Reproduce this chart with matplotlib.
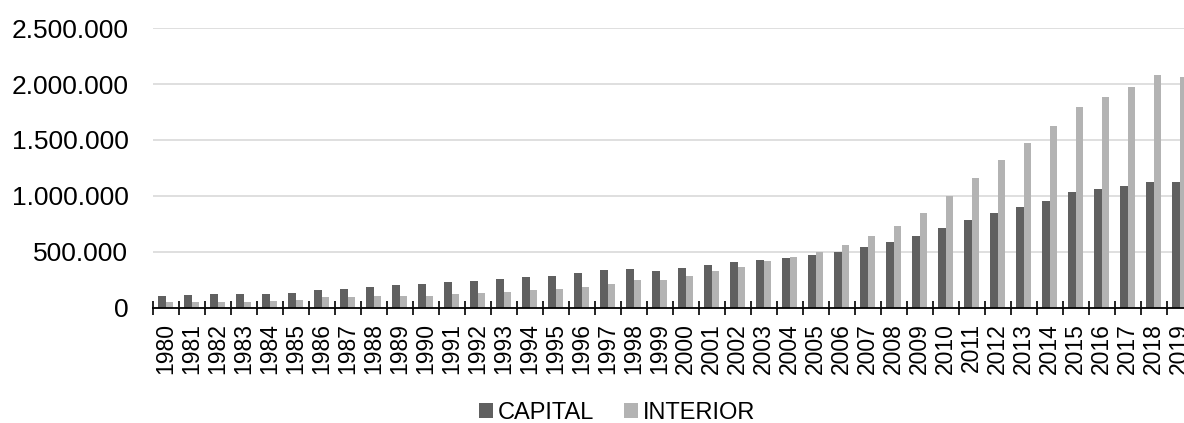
import numpy as np
import matplotlib
matplotlib.use("Agg")
import matplotlib.pyplot as plt
from matplotlib.ticker import FuncFormatter, FixedLocator

plt.rcParams['font.family'] = ['Liberation Sans', 'DejaVu Sans']

years = [str(y) for y in range(1980, 2020)]
capital = [101000, 110000, 117000, 119000, 119000, 128000, 158000, 170000, 182000, 200000,
           212000, 224000, 236000, 254000, 275000, 284000, 308000, 335000, 349000, 329000,
           356000, 383000, 407000, 427000, 445000, 470000, 500000, 538000, 588000, 642000,
           708000, 782000, 842000, 901000, 955000, 1036000, 1063000, 1090000, 1120000, 1123000]
interior = [50000, 50000, 45000, 50000, 56000, 63000, 92000, 95000, 101000, 104000,
            107000, 119000, 128000, 138000, 159000, 165000, 188000, 212000, 248000, 248000,
            284000, 323000, 367000, 412000, 454000, 500000, 558000, 642000, 731000, 848000,
            997000, 1161000, 1317000, 1475000, 1627000, 1792000, 1885000, 1974000, 2082000, 2066000]

fig = plt.figure(figsize=(11.84, 4.23), dpi=100)
ax = fig.add_axes([152.7 / 1184, 1 - 307.5 / 423, 1040 / 1184, (307.5 - 28.3) / 423])

x = np.arange(len(years))
w = 0.285
ax.bar(x - w / 2, capital, w, color='#606060', label='CAPITAL', zorder=3)
ax.bar(x + w / 2, interior, w, color='#b3b3b3', label='INTERIOR', zorder=3)

ax.set_xlim(-0.5, len(years) - 0.5)
ax.set_ylim(0, 2500000)
ax.set_yticks(np.arange(0, 2500001, 500000))
ax.yaxis.set_major_formatter(FuncFormatter(lambda v, p: f"{int(v):,}".replace(',', '.')))
ax.grid(axis='y', color='#d9d9d9', linewidth=1.2, zorder=0)

ax.set_xticks(x)
ax.set_xticklabels(years, rotation=90, fontsize=16.5)
ax.xaxis.set_minor_locator(FixedLocator(np.arange(-0.5, len(years), 1)))
ax.tick_params(axis='x', which='major', length=0, pad=11)
ax.tick_params(axis='x', which='minor', direction='inout', length=10, width=1.2, color='black')
ax.tick_params(axis='y', length=0, pad=17.5, labelsize=19)

for s in ['top', 'right', 'left']:
    ax.spines[s].set_visible(False)
ax.spines['bottom'].set_linewidth(1.3)
ax.spines['bottom'].set_zorder(4)

fig.legend(loc='center', bbox_to_anchor=(0.521, 0.024), ncol=2, frameon=False,
           fontsize=17, handlelength=0.6, handleheight=0.6, handletextpad=0.2,
           columnspacing=1.25, borderaxespad=0, borderpad=0)

fig.savefig('out.png', dpi=100)
